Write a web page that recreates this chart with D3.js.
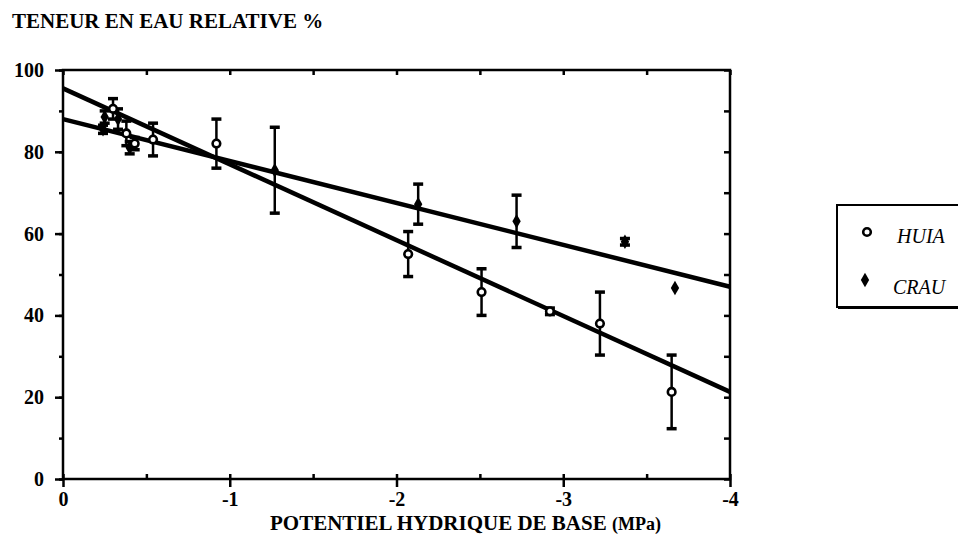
<!DOCTYPE html>
<html>
<head>
<meta charset="UTF-8">
<script src="https://cdn.jsdelivr.net/npm/d3@7"></script>
<style>
  body { margin: 0; background: #fff; }
  text { font-family: "Liberation Serif", "Times New Roman", serif; fill: #000; }
</style>
</head>
<body>
<div id="chart"></div>
<script>
// HUIA: potential (MPa), relative water content (%), error half-width
const huiaX = [-0.30, -0.38, -0.43, -0.54, -0.92, -2.07, -2.51, -2.92, -3.22, -3.65]
const huiaY = [90.5, 84.5, 82, 83, 82, 55, 45.7, 41, 38, 21.3]
const huiaErr = [2.5, 3, 1.5, 4, 6, 5.5, 5.7, 0.8, 7.7, 9]

// CRAU
const crauX = [-0.24, -0.25, -0.33, -0.40, -1.27, -2.13, -2.72, -3.37, -3.67]
const crauY = [85.5, 88.5, 88, 81, 75.5, 67.2, 63, 58, 46.7]
const crauErr = [1, 1.5, 2.5, 1.5, 10.5, 4.9, 6.4, 0.8, 0]

// regression lines, value at x = 0 and x = -4
const huiaFit = [95.5, 21.3]
const crauFit = [88, 47]

const xTicks = [0, -1, -2, -3, -4]
const yTicks = [0, 20, 40, 60, 80, 100]

const W = 958, H = 545
const margin = { top: 70, right: 228, bottom: 66, left: 63 }
const width = W - margin.left - margin.right
const height = H - margin.top - margin.bottom

const svg = d3.select('#chart')
  .append('svg')
  .attr('width', W)
  .attr('height', H)

const g = svg.append('g')
  .attr('transform', 'translate(' + margin.left + ',' + margin.top + ')')

const x = d3.scaleLinear().domain([0, -4]).range([0, width])
const y = d3.scaleLinear().domain([0, 100]).range([height, 0])

const minorX = d3.range(0, 9).map(i => -i * 0.5)
const minorY = d3.range(0, 11).map(i => i * 10)

// frame
g.append('rect')
  .attr('width', width).attr('height', height)
  .attr('fill', 'none').attr('stroke', '#000').attr('stroke-width', 2.5)

// minor ticks: bottom (inside), top (inside), right (inside), left (outside)
g.append('g').attr('transform', 'translate(0,' + height + ')')
  .call(d3.axisTop(x).tickValues(minorX).tickSize(5).tickFormat(''))
g.append('g')
  .call(d3.axisBottom(x).tickValues(minorX).tickSize(5).tickFormat(''))
g.append('g').attr('transform', 'translate(' + width + ',0)')
  .call(d3.axisLeft(y).tickValues(minorY).tickSize(6).tickFormat(''))
g.append('g')
  .call(d3.axisLeft(y).tickValues(minorY).tickSize(4).tickFormat(''))

// main axes
g.append('g').attr('transform', 'translate(0,' + height + ')')
  .call(d3.axisBottom(x).tickValues(xTicks).tickSize(8).tickPadding(5).tickFormat(d => String(d)))
g.append('g')
  .call(d3.axisLeft(y).tickValues(yTicks).tickSize(8).tickPadding(11))

g.selectAll('.domain').remove()
g.selectAll('.tick line').attr('stroke', '#000').attr('stroke-width', 2.5)
g.selectAll('.tick text')
  .style('font-family', '"Liberation Serif", serif')
  .style('font-weight', 'bold')
  .style('font-size', '20px')
  .attr('fill', '#000')

// regression lines
const fits = [huiaFit, crauFit]
fits.forEach(f => {
  g.append('line')
    .attr('x1', x(0)).attr('y1', y(f[0]))
    .attr('x2', x(-4)).attr('y2', y(f[1]))
    .attr('stroke', '#000').attr('stroke-width', 4.5)
})

// error bars
function errorBars(xs, ys, es) {
  const eb = g.append('g')
  xs.forEach((xv, i) => {
    if (!es[i]) return
    const top = y(ys[i] + es[i]), bot = y(ys[i] - es[i]), cx = x(xv)
    eb.append('line').attr('x1', cx).attr('x2', cx).attr('y1', top).attr('y2', bot)
      .attr('stroke', '#000').attr('stroke-width', 2.5)
    ;[top, bot].forEach(yy => {
      eb.append('line').attr('x1', cx - 5).attr('x2', cx + 5).attr('y1', yy).attr('y2', yy)
        .attr('stroke', '#000').attr('stroke-width', 3.5)
    })
  })
}
errorBars(huiaX, huiaY, huiaErr)
errorBars(crauX, crauY, crauErr)

// points
const diamond = d3.symbol().type(d3.symbolDiamond).size(60)
g.append('g').selectAll('path')
  .data(crauX)
  .join('path')
  .attr('d', diamond)
  .attr('transform', (d, i) => 'translate(' + x(d) + ',' + y(crauY[i]) + ')')
  .attr('fill', '#000')

g.append('g').selectAll('circle')
  .data(huiaX)
  .join('circle')
  .attr('cx', d => x(d))
  .attr('cy', (d, i) => y(huiaY[i]))
  .attr('r', 3.8)
  .attr('fill', '#fff')
  .attr('stroke', '#000')
  .attr('stroke-width', 2.6)

// titles
svg.append('text')
  .attr('x', 12).attr('y', 28)
  .style('font-weight', 'bold').style('font-size', '21px')
  .text('TENEUR EN EAU RELATIVE %')

const xt = svg.append('text')
  .attr('x', 270).attr('y', 530)
  .style('font-weight', 'bold').style('font-size', '21px')
xt.append('tspan').text('POTENTIEL HYDRIQUE DE BASE  ')
xt.append('tspan').style('font-size', '18px').text('(MPa)')

// legend
const lg = svg.append('g').attr('transform', 'translate(837,205)')
lg.append('rect')
  .attr('width', 130).attr('height', 102)
  .attr('fill', '#fff').attr('stroke', '#000').attr('stroke-width', 2)
lg.append('line').attr('x1', 1).attr('x2', 130).attr('y1', 103).attr('y2', 103)
  .attr('stroke', '#000').attr('stroke-width', 2)
lg.append('circle').attr('cx', 30).attr('cy', 27).attr('r', 3.8)
  .attr('fill', '#fff').attr('stroke', '#000').attr('stroke-width', 2.6)
lg.append('path').attr('d', diamond).attr('transform', 'translate(28,75)').attr('fill', '#000')
lg.append('text').attr('x', 60).attr('y', 38)
  .style('font-style', 'italic').style('font-size', '20px').text('HUIA')
lg.append('text').attr('x', 56).attr('y', 89)
  .style('font-style', 'italic').style('font-size', '20px').text('CRAU')
</script>
</body>
</html>
